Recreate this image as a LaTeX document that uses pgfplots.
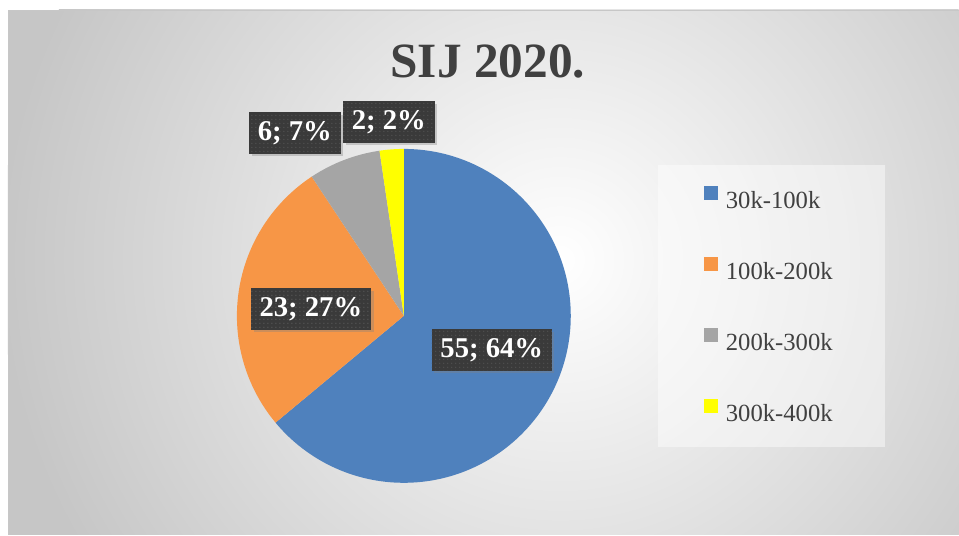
\documentclass[border=0pt]{standalone}
\usepackage{fontspec}
\setmainfont{Liberation Serif}
\usepackage{pgfplots}
\pgfplotsset{compat=1.18}
\usetikzlibrary{shadows,patterns}

\definecolor{pieblue}{HTML}{4F81BD}
\definecolor{pieorange}{HTML}{F79646}
\definecolor{piegray}{HTML}{A5A5A5}
\definecolor{pieyellow}{HTML}{FFFF00}
\definecolor{labelbg}{HTML}{3A3A3A}
\definecolor{labeldot}{HTML}{555555}
\definecolor{txt}{HTML}{404040}
\definecolor{bgout}{HTML}{C6C6C6}

\newcommand\R{125.25pt}
\newcommand\total{86}
% #1 = sum of the values before this one, #2 = value, #3 = colour
\newcommand\pieslice[3]{%
  \fill[#3] (axis cs:404,219) -- ++({90-#1/\total*360}:\R)
    arc[start angle={90-#1/\total*360}, delta angle={-#2/\total*360}, radius=\R] -- cycle;}

\tikzset{lbl/.style={fill=labelbg, text=white,
  font=\bfseries\fontsize{21.5}{21.5}\selectfont,
  inner xsep=6.5pt, minimum height=31pt,
  drop shadow={shadow xshift=2pt, shadow yshift=-2pt, opacity=0.35},
  postaction={pattern=dots, pattern color=labeldot}}}

\begin{document}
\begin{tikzpicture}
% background (1 px = 0.75pt)
\fill[white] (0pt,0pt) rectangle (719.25pt,401.25pt);
\begin{scope}
  \clip (6pt,0pt) rectangle (719.25pt,393.75pt);
  \fill[bgout] (6pt,0pt) rectangle (719.25pt,393.75pt);
  \shade[inner color=white, outer color=bgout] (420pt,206.25pt) circle[radius=420pt];
\end{scope}
\draw[black!22, line width=0.6pt] (6.3pt,0pt) -- (6.3pt,393.45pt) -- (719.25pt,393.45pt);

\begin{axis}[
  at={(0pt,0pt)}, anchor=south west,
  scale only axis, width=719.25pt, height=401.25pt,
  xmin=0, xmax=959, ymin=0, ymax=535,
  hide axis, clip=false,
  legend style={draw=none, fill=none, inner sep=0pt,
    at={(0.7341,0.6916)}, anchor=north west,
    font=\fontsize{18.5}{18.5}\selectfont, text=txt,
    row sep=0pt, nodes={minimum height=53.25pt, inner ysep=0pt, inner xsep=2pt}},
  legend cell align=left,
  legend image code/.code={\fill[#1] (0pt,1.3pt) rectangle (9.75pt,11.05pt);
    \path (14pt,6pt);},
]
\addplot[draw=none, forget plot] coordinates {(0,0) (959,535)};

% pie: 55, 23, 6, 2 (total 86), clockwise from the top
\pieslice{0}{55}{pieblue}
\pieslice{55}{23}{pieorange}
\pieslice{78}{6}{piegray}
\pieslice{84}{2}{pieyellow}

% legend panel
\fill[white, opacity=0.45] (axis cs:658,370) rectangle (axis cs:885,88);

\node[anchor=base, text=txt, font=\bfseries\fontsize{37}{37}\selectfont]
  at (axis cs:488,457) {SIJ 2020.};

\node[lbl] at (axis cs:492,185) {55; 64\%};
\node[lbl] at (axis cs:311,226) {23; 27\%};
\node[lbl] at (axis cs:295,402) {6; 7\%};
\node[lbl] at (axis cs:389,413) {2; 2\%};

\addlegendimage{pieblue}\addlegendentry{30k-100k}
\addlegendimage{pieorange}\addlegendentry{100k-200k}
\addlegendimage{piegray}\addlegendentry{200k-300k}
\addlegendimage{pieyellow}\addlegendentry{300k-400k}
\end{axis}
\end{tikzpicture}
\end{document}
